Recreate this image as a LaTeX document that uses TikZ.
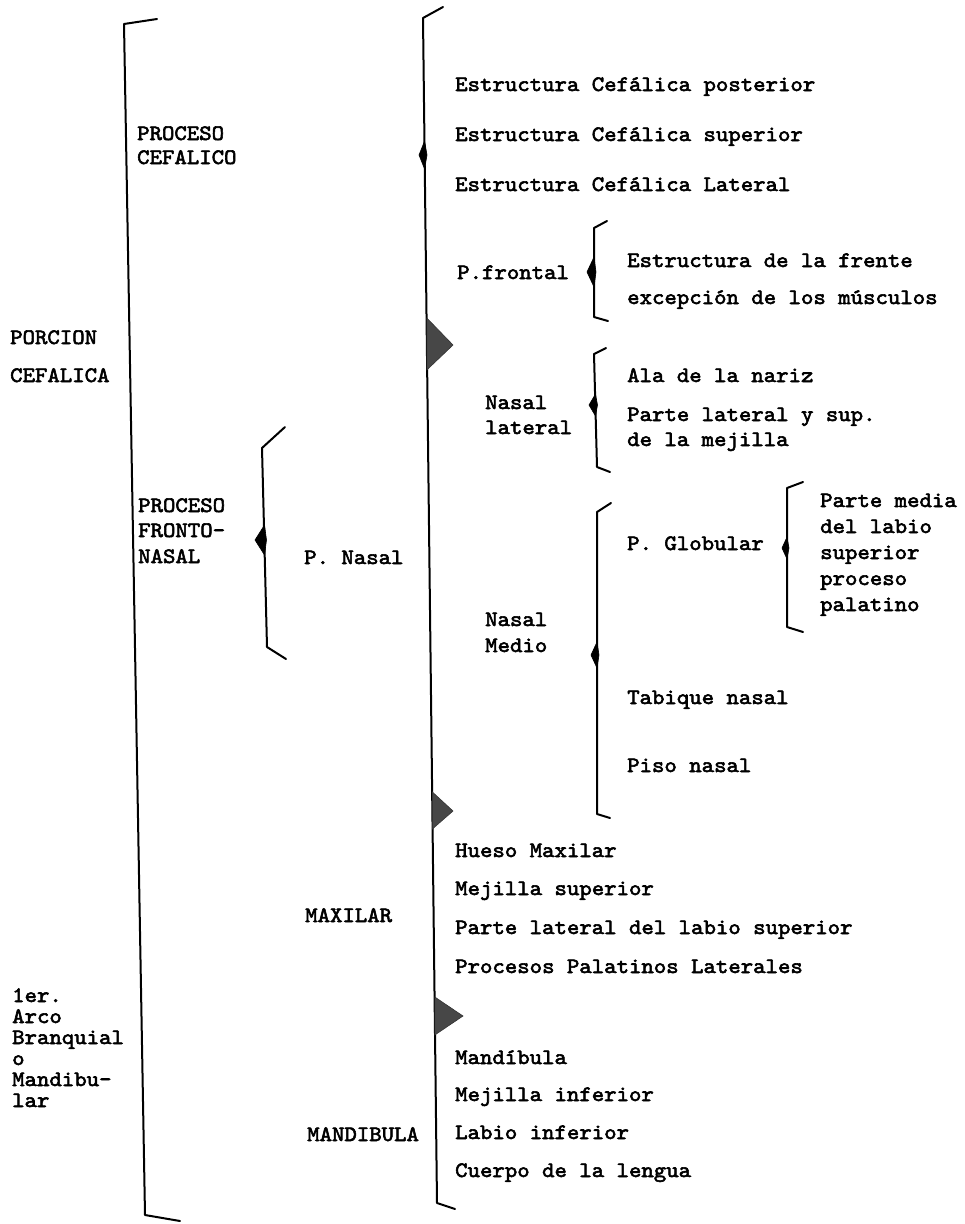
\documentclass[tikz,border=0pt]{standalone}
\usepackage{fontspec}
\newfontfamily\tw{lmmono10-regular.otf}[FakeStretch=1.075, FakeBold=2.6]
\tikzset{
  br/.style={line width=2pt, line join=round, line cap=round},
  txt/.style={anchor=base west, inner sep=0pt, font=\tw\fontsize{22}{26}\selectfont},
  tri/.style={fill=black!72, draw=black!80, line width=0.6pt},
  spin/.style={fill=black, draw=black, line width=0.6pt}
}
\begin{document}
\begin{tikzpicture}[x=1pt,y=-1pt]
\useasboundingbox (0,0) rectangle (965,1224);

% ---------- left main bracket ----------
\coordinate (LT) at (157,19);
\coordinate (LC1) at (124,24);
\coordinate (LC2) at (145,1215);
\coordinate (LB) at (180,1221);
\draw[br] (LT) -- (LC1) -- (LC2) -- (LB);

% ---------- second bracket ----------
\coordinate (MT) at (443,7);
\coordinate (MC1) at (423,18);
\coordinate (MC2) at (437,1203);
\coordinate (MB) at (455,1209);
\draw[br] (MT) -- (MC1) -- (MC2) -- (MB);
\fill[spin] (424.6,141) -- (419,155) -- (424.6,169) -- (427,155) -- cycle;
\coordinate (T1a) at (426.8,318); \coordinate (T1b) at (453,345); \coordinate (T1c) at (426.8,370);
\filldraw[tri] (T1a) -- (T1b) -- (T1c) -- cycle;
\coordinate (T2a) at (432.4,792); \coordinate (T2b) at (453,811); \coordinate (T2c) at (432.4,829);
\filldraw[tri] (T2a) -- (T2b) -- (T2c) -- cycle;
\coordinate (T3a) at (434.8,997); \coordinate (T3b) at (463,1016); \coordinate (T3c) at (434.8,1035);
\filldraw[tri] (T3a) -- (T3b) -- (T3c) -- cycle;

% ---------- fronto-nasal bracket ----------
\coordinate (FT) at (285,427);
\coordinate (FC1) at (262,448);
\coordinate (FC2) at (267,647);
\coordinate (FB) at (286,659);
\draw[br] (FT) -- (FC1) -- (FC2) -- (FB);
\fill[spin] (264.5,525) -- (255,540) -- (264.5,555) -- (266.5,540) -- cycle;

% ---------- P.frontal bracket ----------
\coordinate (PT) at (607,221);
\coordinate (PC1) at (594,228);
\coordinate (PC2) at (594,317);
\coordinate (PB) at (608,321);
\draw[br] (PT) -- (PC1) -- (PC2) -- (PB);
\fill[spin] (594,257) -- (587,272) -- (594,287) -- (596,272) -- cycle;

% ---------- Nasal lateral bracket ----------
\coordinate (NLT) at (606,348);
\coordinate (NLC1) at (594,354);
\coordinate (NLC2) at (597,467);
\coordinate (NLB) at (610,472);
\draw[br] (NLT) -- (NLC1) -- (NLC2) -- (NLB);
\fill[spin] (595.5,394) -- (589,405) -- (595.5,416) -- (597.5,405) -- cycle;

% ---------- Nasal medio bracket ----------
\coordinate (NMT) at (611,503);
\coordinate (NMC1) at (597,512);
\coordinate (NMC2) at (597,814);
\coordinate (NMB) at (610,818);
\draw[br] (NMT) -- (NMC1) -- (NMC2) -- (NMB);
\fill[spin] (597,642) -- (591,655) -- (597,668) -- (599,655) -- cycle;

% ---------- P. Globular bracket ----------
\coordinate (GT) at (803,482);
\coordinate (GC1) at (787,488);
\coordinate (GC2) at (787,627);
\coordinate (GB) at (803,632);
\draw[br] (GT) -- (GC1) -- (GC2) -- (GB);
\fill[spin] (787,537) -- (782,548) -- (787,559) -- (789,548) -- cycle;

% ---------- left texts ----------
\node[txt] (pc1) at (137,140) {PROCESO};
\node[txt] (pc2) at (137,164) {CEFALICO};
\node[txt] (por1) at (10,344) {PORCION};
\node[txt] (por2) at (10,382) {CEFALICA};
\node[txt] (pf1) at (138,512) {PROCESO};
\node[txt] (pf2) at (138,537) {FRONTO-};
\node[txt] (pf3) at (138,563) {NASAL};
\node[txt] (pn) at (304,564) {P. Nasal};
\node[txt] (mx) at (305,922) {MAXILAR};
\node[txt] (md) at (307,1141) {MANDIBULA};
\node[txt] (a1) at (12,1002) {1er.};
\node[txt] (a2) at (12,1023) {Arco};
\node[txt] (a3) at (12,1044) {Branquial};
\node[txt] (a4) at (12,1065) {o};
\node[txt] (a5) at (12,1086) {Mandibu-};
\node[txt] (a6) at (12,1107) {lar};

% ---------- right column texts ----------
\node[txt] (e1) at (455,91) {Estructura Cefálica posterior};
\node[txt] (e2) at (455,141) {Estructura Cefálica superior};
\node[txt] (e3) at (455,191) {Estructura Cefálica Lateral};
\node[txt] (pfr) at (457,279) {P.frontal};
\node[txt] (fr1) at (627,267) {Estructura de la frente};
\node[txt] (fr2) at (627,304) {excepción de los músculos};
\node[txt] (nl1) at (485,409) {Nasal};
\node[txt] (nl2) at (485,434) {lateral};
\node[txt] (al1) at (627,382) {Ala de la nariz};
\node[txt] (al2) at (627,421) {Parte lateral y sup.};
\node[txt] (al3) at (627,446) {de la mejilla};
\node[txt] (nm1) at (485,626) {Nasal};
\node[txt] (nm2) at (485,652) {Medio};
\node[txt] (gl) at (627,550) {P. Globular};
\node[txt] (g1) at (820,507) {Parte media};
\node[txt] (g2) at (820,533) {del labio};
\node[txt] (g3) at (820,559) {superior};
\node[txt] (g4) at (820,585) {proceso};
\node[txt] (g5) at (820,611) {palatino};
\node[txt] (tb) at (627,704) {Tabique nasal};
\node[txt] (ps) at (627,772) {Piso nasal};
\node[txt] (h1) at (455,857) {Hueso Maxilar};
\node[txt] (h2) at (455,895) {Mejilla superior};
\node[txt] (h3) at (455,934) {Parte lateral del labio superior};
\node[txt] (h4) at (455,973) {Procesos Palatinos Laterales};
\node[txt] (m1) at (455,1064) {Mandíbula};
\node[txt] (m2) at (455,1101) {Mejilla inferior};
\node[txt] (m3) at (455,1139) {Labio inferior};
\node[txt] (m4) at (455,1177) {Cuerpo de la lengua};
\end{tikzpicture}
\end{document}
